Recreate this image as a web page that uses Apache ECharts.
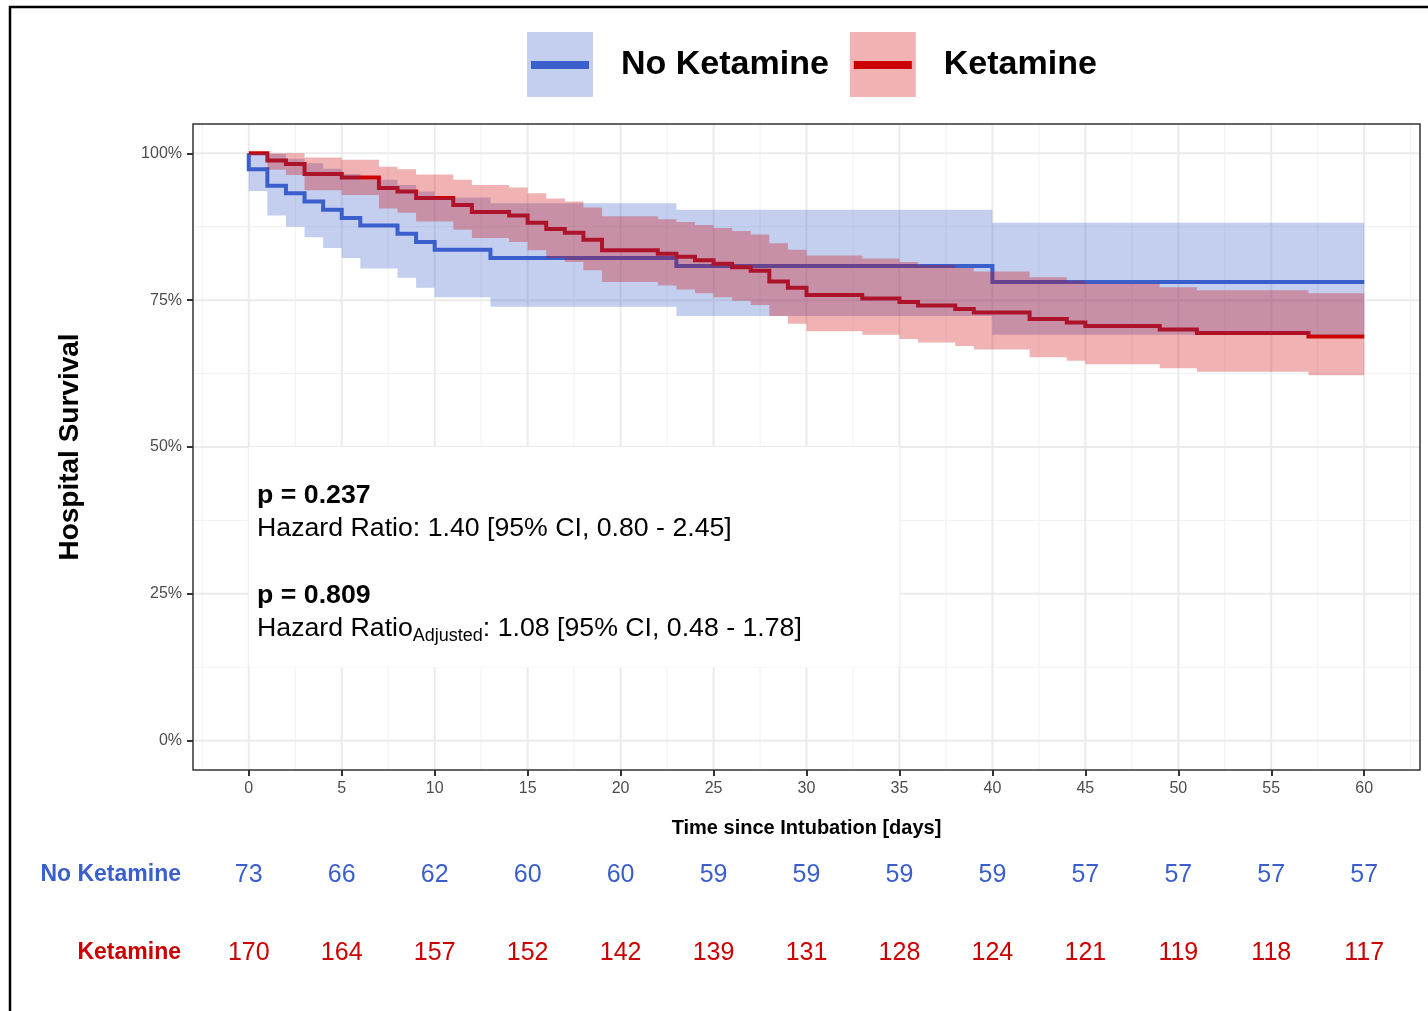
<!DOCTYPE html>
<html>
<head>
<meta charset="utf-8">
<script src="https://cdn.jsdelivr.net/npm/echarts@6/dist/echarts.min.js"></script>
<style>
  html, body { margin: 0; padding: 0; background: #ffffff; }
  #chart { width: 1428px; height: 1011px; }
</style>
</head>
<body>
<div id="chart"></div>
<script>
const FONT = '"Liberation Sans", Arial, Helvetica, sans-serif';

// Kaplan-Meier survival (%) with 95% CI; each value holds from its day until the next listed day
const noKetTime  = [0, 0, 1, 2, 3, 4, 5, 6, 8, 9, 10, 13, 23, 40, 60];
const noKetSurv  = [100, 97.3, 94.5, 93.2, 91.8, 90.4, 89.0, 87.7, 86.3, 84.9, 83.6, 82.2, 80.8, 78.1, 78.1];
const noKetUpper = [100, 100, 99.9, 99.1, 98.3, 97.4, 96.5, 95.5, 94.6, 93.5, 92.5, 91.5, 90.4, 88.2, 88.2];
const noKetLower = [100, 93.6, 89.4, 87.5, 85.7, 83.9, 82.2, 80.4, 78.8, 77.1, 75.5, 73.9, 72.3, 69.1, 69.1];

const ketTime  = [0, 1, 2, 3, 5, 7, 8, 9, 11, 12, 14, 15, 16, 17, 18, 19, 22, 23, 24, 25, 26, 27, 28, 29, 30, 33, 35, 36, 38, 39, 42, 44, 45, 49, 51, 57, 60];
const ketSurv  = [100, 98.8, 98.2, 96.5, 95.9, 94.1, 93.5, 92.4, 91.2, 90.0, 89.4, 88.2, 87.1, 86.5, 85.3, 83.5, 82.9, 82.4, 81.8, 81.2, 80.6, 80.0, 78.2, 77.1, 75.9, 75.3, 74.7, 74.1, 73.5, 72.9, 71.8, 71.2, 70.6, 70.0, 69.4, 68.8, 68.8];
const ketUpper = [100, 100, 100, 99.3, 98.9, 97.7, 97.3, 96.4, 95.5, 94.6, 94.2, 93.2, 92.3, 91.8, 90.8, 89.3, 88.8, 88.3, 87.8, 87.3, 86.8, 86.2, 84.7, 83.6, 82.6, 82.1, 81.5, 81.0, 80.5, 79.9, 78.9, 78.3, 77.8, 77.2, 76.7, 76.2, 76.2];
const ketLower = [100, 97.2, 96.3, 93.7, 92.9, 90.6, 89.9, 88.4, 87.0, 85.6, 84.9, 83.5, 82.2, 81.5, 80.1, 78.1, 77.5, 76.8, 76.2, 75.5, 74.9, 74.2, 72.3, 71.0, 69.7, 69.1, 68.4, 67.8, 67.2, 66.6, 65.3, 64.7, 64.1, 63.4, 62.8, 62.2, 62.2];

// Number at risk
const riskDays  = [0, 5, 10, 15, 20, 25, 30, 35, 40, 45, 50, 55, 60];
const riskNoKet = [73, 66, 62, 60, 60, 59, 59, 59, 59, 57, 57, 57, 57];
const riskKet   = [170, 164, 157, 152, 142, 139, 131, 128, 124, 121, 119, 118, 117];

// Axis breaks
const xTicks = [0, 5, 10, 15, 20, 25, 30, 35, 40, 45, 50, 55, 60];
const xMinor = [-2.5, 2.5, 7.5, 12.5, 17.5, 22.5, 27.5, 32.5, 37.5, 42.5, 47.5, 52.5, 57.5, 62.5];
const yTicks = [0, 25, 50, 75, 100];
const yMinor = [12.5, 37.5, 62.5, 87.5];

const BLUE = '#3A5FCD';
const RED = '#CC0000';
const BLUE_FILL = 'rgba(58,95,205,0.3)';
const RED_FILL = 'rgba(204,0,0,0.3)';

const statsText =
  '{b|p = 0.237}\n' +
  '{n|Hazard Ratio: 1.40 [95% CI, 0.80 - 2.45]}\n' +
  '{n| }\n' +
  '{b|p = 0.809}\n' +
  '{n|Hazard Ratio}{s|Adjusted}{n|: 1.08 [95% CI, 0.48 - 1.78]}';

// Grid lines: [value, 0 = vertical / 1 = horizontal, 1 = major / 0 = minor]
const gridRows = []
  .concat(xMinor.map(v => [v, 0, 0]))
  .concat(yMinor.map(v => [v, 1, 0]))
  .concat(xTicks.map(v => [v, 0, 1]))
  .concat(yTicks.map(v => [v, 1, 1]));

function stepPoints(times, values) {
  return times.map((t, i) => [t, values[i]]);
}

// Step-shaped confidence band drawn as one polygon through the axis scales
function bandSeries(name, times, upper, lower, fill) {
  const rows = times.map((t, i) => [t, lower[i], upper[i]]);
  return {
    type: 'custom',
    name: name,
    z: 3,
    silent: true,
    itemStyle: { color: fill },
    encode: { x: 0, y: [1, 2] },
    data: rows,
    renderItem: function (params, api) {
      if (params.dataIndex !== 0) return null;
      const pts = [];
      for (let i = 0; i < rows.length - 1; i++) {
        pts.push(api.coord([rows[i][0], rows[i][2]]));
        pts.push(api.coord([rows[i + 1][0], rows[i][2]]));
      }
      for (let i = rows.length - 2; i >= 0; i--) {
        pts.push(api.coord([rows[i + 1][0], rows[i][1]]));
        pts.push(api.coord([rows[i][0], rows[i][1]]));
      }
      return { type: 'polygon', shape: { points: pts }, style: { fill: fill, stroke: null } };
    }
  };
}

function riskSeries(name, counts, color) {
  return {
    type: 'scatter',
    xAxisIndex: 1,
    yAxisIndex: 1,
    symbolSize: 1,
    itemStyle: { color: 'rgba(0,0,0,0)', opacity: 1 },
    silent: true,
    data: riskDays.map((d, i) => [d, name, counts[i]]),
    label: {
      show: true,
      position: 'inside',
      formatter: p => String(p.data[2]),
      color: color,
      opacity: 1,
      fontSize: 25,
      fontFamily: FONT
    }
  };
}

const chart = echarts.init(document.getElementById('chart'), null, { renderer: 'canvas' });

chart.setOption({
  animation: false,
  backgroundColor: '#ffffff',
  graphic: [{
    type: 'rect',
    shape: { x: 10, y: 7, width: 1440, height: 1030 },
    style: { fill: 'none', stroke: '#000000', lineWidth: 2.5 },
    silent: true
  }],
  legend: [
    {
      data: [
        { name: 'No Ketamine', icon: 'rect', itemStyle: { color: BLUE_FILL } },
        { name: 'Ketamine', icon: 'rect', itemStyle: { color: RED_FILL } }
      ],
      left: 527, top: 32, padding: 0,
      itemWidth: 66, itemHeight: 65, itemGap: 21,
      selectedMode: false,
      textStyle: { fontSize: 34, fontWeight: 'bold', color: '#000000', fontFamily: FONT, padding: [0, 0, 0, 23] }
    },
    {
      data: [
        { name: 'No Ketamine survival', icon: 'rect', itemStyle: { color: BLUE } },
        { name: 'Ketamine survival', icon: 'rect', itemStyle: { color: RED } }
      ],
      left: 531, top: 48, padding: 0,
      itemWidth: 58, itemHeight: 8, itemGap: 29,
      selectedMode: false,
      formatter: n => n.replace(' survival', ''),
      textStyle: { fontSize: 34, fontWeight: 'bold', color: 'rgba(0,0,0,0)', fontFamily: FONT, padding: [0, 0, 0, 23] }
    }
  ],
  grid: [
    { left: 193, right: 8, top: 124, bottom: 241, show: true, z: 10,
      backgroundColor: 'transparent', borderColor: '#333333', borderWidth: 1.5 },
    { left: 193, right: 8, top: 836, height: 156 }
  ],
  xAxis: [
    {
      type: 'value', gridIndex: 0, min: -3, max: 63,
      axisLine: { show: false, onZero: false },
      axisTick: { show: true, customValues: xTicks, length: 6, lineStyle: { color: '#333333', width: 2 } },
      axisLabel: { customValues: xTicks, color: '#4D4D4D', fontSize: 16, margin: 11, fontFamily: FONT },
      splitLine: { show: false },
      name: 'Time since Intubation [days]',
      nameLocation: 'middle', nameGap: 48,
      nameTextStyle: { fontSize: 20, fontWeight: 'bold', color: '#000000', fontFamily: FONT }
    },
    {
      type: 'value', gridIndex: 1, min: -3, max: 63, show: false
    }
  ],
  yAxis: [
    {
      type: 'value', gridIndex: 0, min: -5, max: 105,
      axisLine: { show: false, onZero: false },
      axisTick: { show: true, customValues: yTicks, length: 6, lineStyle: { color: '#333333', width: 2 } },
      axisLabel: { customValues: yTicks, formatter: '{value}%', color: '#4D4D4D', fontSize: 16, margin: 11, fontFamily: FONT },
      splitLine: { show: false },
      name: 'Hospital Survival',
      nameLocation: 'middle', nameGap: 109, nameRotate: 90,
      nameTextStyle: { fontSize: 28, fontWeight: 'bold', color: '#000000', fontFamily: FONT }
    },
    {
      type: 'category', gridIndex: 1,
      data: ['Ketamine', 'No Ketamine'],
      axisLine: { show: false }, axisTick: { show: false }, splitLine: { show: false },
      axisLabel: {
        margin: 12,
        formatter: v => v === 'Ketamine' ? '{k|Ketamine}' : '{n|No Ketamine}',
        rich: {
          k: { color: RED, fontSize: 23, fontWeight: 'bold', fontFamily: FONT },
          n: { color: BLUE, fontSize: 23, fontWeight: 'bold', fontFamily: FONT }
        }
      }
    }
  ],
  series: [
    {
      type: 'custom',
      name: 'grid lines',
      z: 1,
      silent: true,
      data: gridRows,
      renderItem: function (params, api) {
        const cs = params.coordSys;
        const v = api.value(0);
        const horiz = api.value(1) === 1;
        const major = api.value(2) === 1;
        let shape;
        if (horiz) {
          const y = api.coord([0, v])[1];
          shape = { x1: cs.x, y1: y, x2: cs.x + cs.width, y2: y };
        } else {
          const x = api.coord([v, 0])[0];
          shape = { x1: x, y1: cs.y, x2: x, y2: cs.y + cs.height };
        }
        return { type: 'line', shape: shape, style: { stroke: major ? '#EBEBEB' : '#F1F1F1', lineWidth: major ? 2 : 1 } };
      }
    },
    {
      type: 'line', name: 'No Ketamine survival', step: 'end', z: 2,
      symbol: 'none', color: BLUE,
      lineStyle: { color: BLUE, width: 4, cap: 'butt', join: 'miter' },
      data: stepPoints(noKetTime, noKetSurv)
    },
    {
      type: 'line', name: 'Ketamine survival', step: 'end', z: 2,
      symbol: 'none', color: RED,
      lineStyle: { color: RED, width: 4, cap: 'butt', join: 'miter' },
      data: stepPoints(ketTime, ketSurv)
    },
    bandSeries('No Ketamine', noKetTime, noKetUpper, noKetLower, BLUE_FILL),
    bandSeries('Ketamine', ketTime, ketUpper, ketLower, RED_FILL),
    {
      type: 'custom',
      name: 'model statistics',
      z: 4,
      silent: true,
      data: [[0, 12.5, 35, 50]],
      renderItem: function (params, api) {
        const tl = api.coord([api.value(0), api.value(3)]);
        const br = api.coord([api.value(2), api.value(1)]);
        const textX = api.coord([0.5, 0])[0];
        return {
          type: 'group',
          children: [
            { type: 'rect', shape: { x: tl[0], y: tl[1], width: br[0] - tl[0], height: br[1] - tl[1] },
              style: { fill: '#ffffff', stroke: null } },
            { type: 'text', x: textX - 1, y: tl[1] + 32,
              style: {
                text: statsText,
                fontFamily: FONT,
                textAlign: 'left', textVerticalAlign: 'top',
                fill: '#000000',
                rich: {
                  b: { fontSize: 26.7, fontWeight: 'bold', lineHeight: 33.2, fontFamily: FONT, fill: '#000000' },
                  n: { fontSize: 26.7, lineHeight: 33.2, fontFamily: FONT, fill: '#000000' },
                  s: { fontSize: 18, lineHeight: 33.2, verticalAlign: 'bottom', fontFamily: FONT, fill: '#000000' }
                }
              } }
          ]
        };
      }
    },
    riskSeries('No Ketamine', riskNoKet, BLUE),
    riskSeries('Ketamine', riskKet, RED)
  ]
});
</script>
</body>
</html>
